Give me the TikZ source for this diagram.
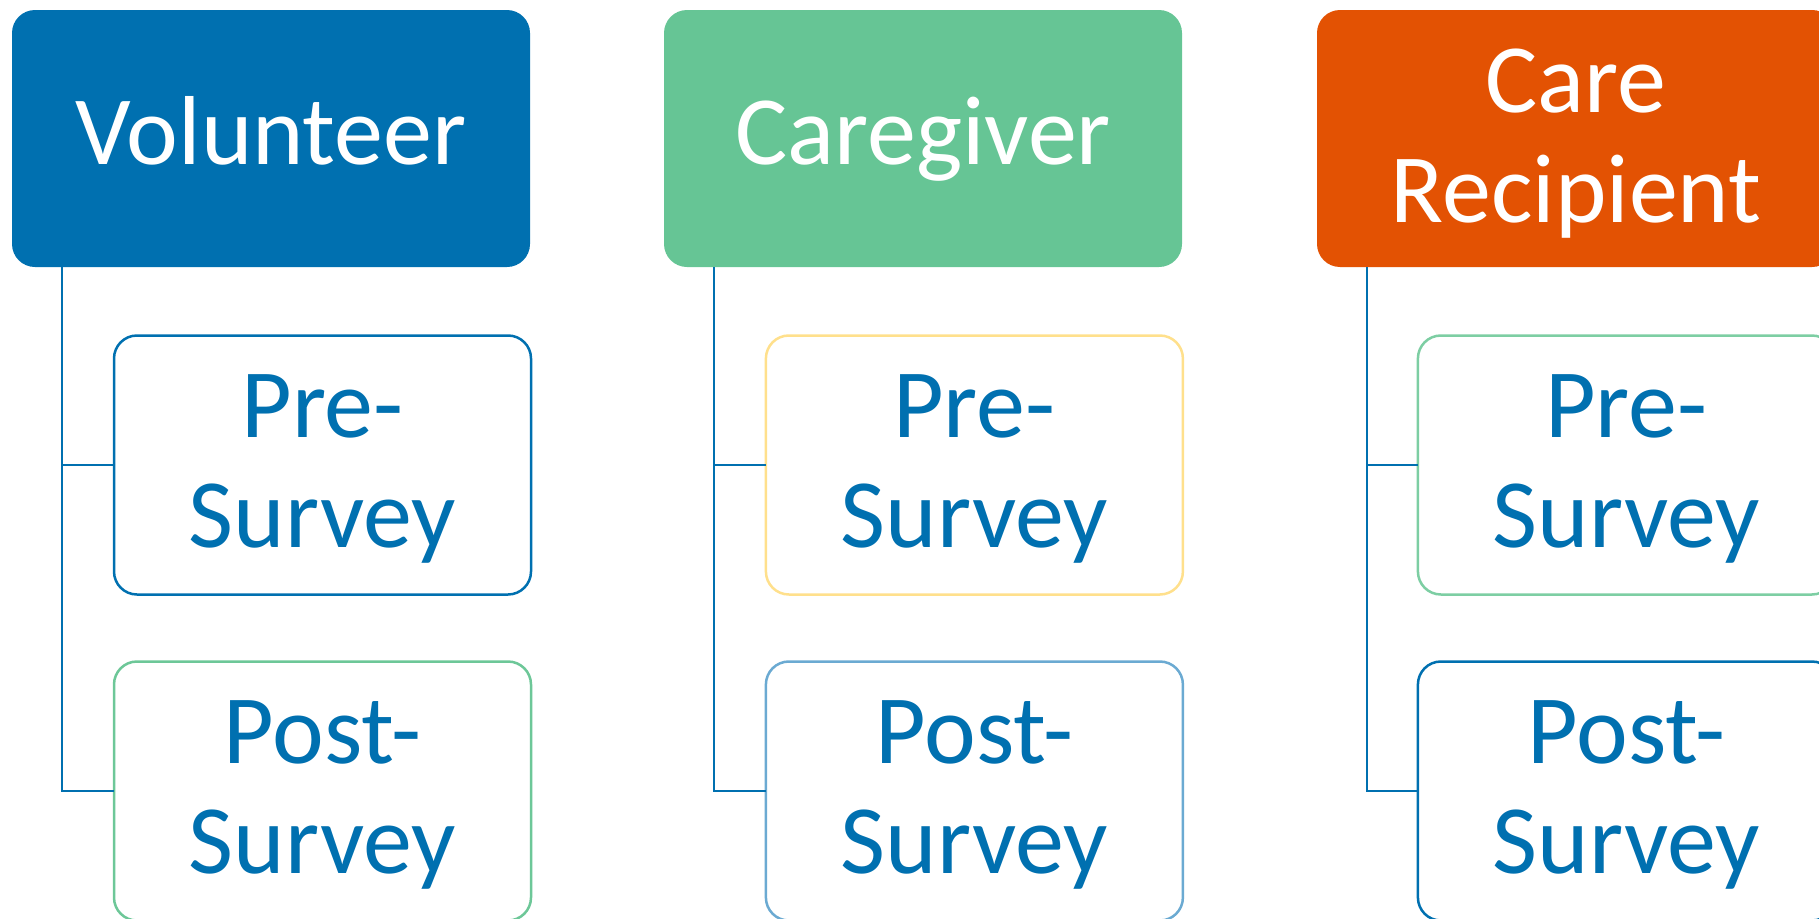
\documentclass[tikz,border=0pt]{standalone}
\usepackage{fontspec}
\setmainfont{Carlito}
\usetikzlibrary{calc}
\definecolor{cblue}{RGB}{0,112,176}
\definecolor{cgreen}{RGB}{102,197,149}
\definecolor{corange}{RGB}{227,82,3}
\definecolor{byellow}{RGB}{255,224,140}
\definecolor{blightblue}{RGB}{107,170,210}
\definecolor{blightgreen}{RGB}{125,206,163}
\definecolor{bgreen}{RGB}{109,199,152}
\begin{document}
\begin{tikzpicture}[x=1pt,y=-1pt,
  topbox/.style={rectangle, rounded corners=23pt, minimum width=518pt, minimum height=257pt,
    inner sep=0pt, outer sep=0pt, text=white, align=center, font=\fontsize{98}{110}\selectfont,
    text height=63pt, text depth=12pt},
  twoline/.style={text height=177pt, text depth=12pt},
  subbox/.style={rectangle, rounded corners=23pt, minimum width=417pt, minimum height=259pt,
    inner sep=0pt, outer sep=0pt, line width=2.5pt, fill=white, text=cblue, align=center,
    font=\fontsize{98}{110}\selectfont, twoline},
  conn/.style={draw=cblue, line width=2.5pt}]
\useasboundingbox (0,0) rectangle (1819,918);
\clip (0,0) rectangle (1819,918);
% top boxes
\node[topbox, fill=cblue] (vol) at (271,138.5) {Volunteer};
\node[topbox, fill=cgreen] (cg) at (923,138.5) {Caregiver};
\node[topbox, fill=corange, text height=180pt] (cr) at (1576,138.5) {Care\\Recipient};
% sub boxes
\node[subbox, draw=cblue] (volpre) at (322.5,465) {Pre-\\Survey};
\node[subbox, draw=bgreen] (volpost) at (322.5,791) {Post-\\Survey};
\node[subbox, draw=byellow] (cgpre) at (974.4,465) {Pre-\\Survey};
\node[subbox, draw=blightblue] (cgpost) at (974.4,791) {Post-\\Survey};
\node[subbox, draw=blightgreen] (crpre) at (1626.4,465) {Pre-\\Survey};
\node[subbox, draw=cblue] (crpost) at (1626.4,791) {Post-\\Survey};
% connectors
\coordinate (va) at ($(vol.south west)+(50,0)$);
\coordinate (ca) at ($(cg.south west)+(50,0)$);
\coordinate (ra) at ($(cr.south west)+(50,0)$);
\draw[conn] (va) |- (volpre.west);
\draw[conn] (va) |- (volpost.west);
\draw[conn] (ca) |- (cgpre.west);
\draw[conn] (ca) |- (cgpost.west);
\draw[conn] (ra) |- (crpre.west);
\draw[conn] (ra) |- (crpost.west);
\end{tikzpicture}
\end{document}
